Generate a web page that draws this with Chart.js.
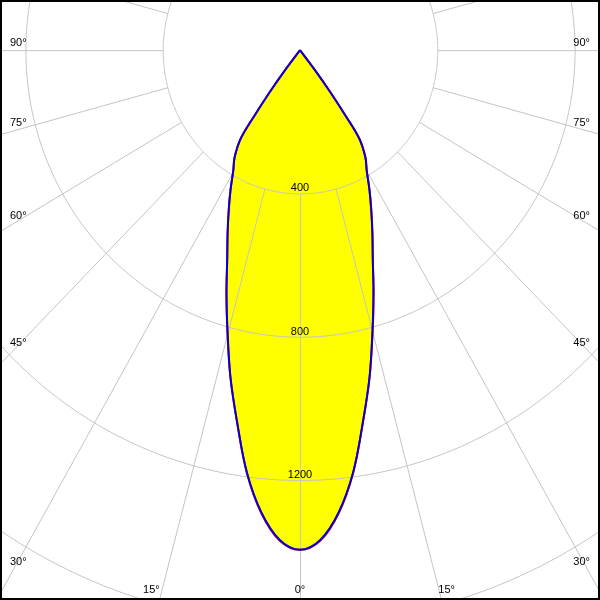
<!DOCTYPE html>
<html><head><meta charset="utf-8">
<script src="https://cdn.jsdelivr.net/npm/chart.js@4.4.1/dist/chart.umd.min.js"></script>
<style>html,body{margin:0;padding:0;background:#fff}#wrap{width:600px;height:600px;position:relative}</style>
</head><body><div id="wrap"><canvas id="c" width="600" height="600"></canvas></div>
<script>
// Photometric data (half profile, symmetric about nadir), angle in degrees from nadir
const angles = [0, 2.5, 5, 7.5, 10, 12.5, 15, 17.5, 20, 22.5, 25, 27.5, 30, 32.5, 35, 36, 37, 38, 39];
const intensityBlue = [1395, 1368, 1295, 1188, 1055, 936, 815, 712, 620, 551, 491, 438, 389, 354, 300, 222, 147, 75, 0];
const intensityRed  = [1395, 1370, 1297, 1189, 1055, 936, 817, 713, 620, 551, 491, 438, 389, 355, 301, 222, 147, 75, 0];
const ringValues = [400, 800, 1200, 1600, 2000];
const ringLabels = ['400', '800', '1200'];
const spokeAngles = [-165, -150, -135, -120, -105, -90, -75, -60, -45, -30, -15, 0, 15, 30, 45, 60, 75, 90, 105, 120, 135, 150, 165, 180];
const angleLabelAngles = [-90, -75, -60, -45, -30, -15, 0, 15, 30, 45, 60, 75, 90];
const angleLabels = ['90°', '75°', '60°', '45°', '30°', '15°', '0°', '15°', '30°', '45°', '60°', '75°', '90°'];

function profile(vals) {
  const pts = [];
  for (let i = angles.length - 1; i >= 1; i--) {
    const t = -angles[i] * Math.PI / 180;
    pts.push({x: vals[i] * Math.sin(t), y: vals[i] * Math.cos(t)});
  }
  for (let i = 0; i < angles.length; i++) {
    const t = angles[i] * Math.PI / 180;
    pts.push({x: vals[i] * Math.sin(t), y: vals[i] * Math.cos(t)});
  }
  return pts;
}

const FONT = '11px "Liberation Sans", Arial, sans-serif';

const polarGrid = {
  id: 'polarGrid',
  afterDatasetDraw(chart, args) {
    if (args.index !== 0) return;
    const ctx = chart.ctx, xs = chart.scales.x, ys = chart.scales.y;
    const W = chart.width, H = chart.height;
    const P = (I, deg) => {
      const t = deg * Math.PI / 180;
      return [xs.getPixelForValue(I * Math.sin(t)), ys.getPixelForValue(I * Math.cos(t))];
    };
    ctx.save();
    ctx.translate(0.5, 0.5);
    ctx.strokeStyle = '#c4c4c4';
    ctx.lineWidth = 1;
    ringValues.forEach(r => {
      ctx.beginPath();
      for (let d = 0; d <= 360; d += 0.5) {
        const [px, py] = P(r, d);
        if (d === 0) ctx.moveTo(px, py); else ctx.lineTo(px, py);
      }
      ctx.closePath();
      ctx.stroke();
    });
    spokeAngles.forEach(a => {
      const [x0, y0] = P(ringValues[0], a);
      const [x1, y1] = P(6000, a);
      ctx.beginPath(); ctx.moveTo(x0, y0); ctx.lineTo(x1, y1); ctx.stroke();
    });
    ctx.restore();

    ctx.save();
    ctx.fillStyle = '#000';
    ctx.font = FONT;
    ctx.textBaseline = 'alphabetic';
    ctx.textAlign = 'center';
    ringLabels.forEach((t, i) => {
      const [px, py] = P(ringValues[i], 0);
      ctx.fillText(t, px, py - 2);
    });
    angleLabelAngles.forEach((a, i) => {
      const t = a * Math.PI / 180;
      const s = Math.sin(t), c = Math.cos(t);
      const bottomV = ys.getValueForPixel(H - 2);
      const Ib = c > 1e-6 ? bottomV / c : Infinity;
      const edgeX = s < 0 ? xs.getValueForPixel(2) : xs.getValueForPixel(W - 2);
      const Is = Math.abs(s) > 1e-6 ? edgeX / s : Infinity;
      const label = angleLabels[i];
      if (Is < Ib) {
        const ax = s < 0 ? 13 : W - 13;
        const I = xs.getValueForPixel(ax) / s;
        const py = P(I, a)[1];
        ctx.textAlign = s < 0 ? 'left' : 'right';
        ctx.fillText(label, s < 0 ? 10 : W - 10, py - 4);
      } else {
        const I = ys.getValueForPixel(H - 11) / c;
        const px = P(I, a)[0];
        ctx.textAlign = a < 0 ? 'right' : (a > 0 ? 'left' : 'center');
        ctx.fillText(label, a < 0 ? px - 2 : px, H - 7);
      }
    });
    ctx.restore();
  }
};

const frame = {
  id: 'frame',
  afterDraw(chart) {
    const ctx = chart.ctx;
    ctx.save();
    ctx.strokeStyle = '#000';
    ctx.lineWidth = 2;
    ctx.strokeRect(1, 1, chart.width - 2, chart.height - 2);
    ctx.restore();
  }
};

new Chart(document.getElementById('c'), {
  type: 'scatter',
  data: {
    datasets: [
      {data: profile(intensityBlue), showLine: true, fill: 'shape', backgroundColor: '#ffff00',
       borderColor: 'rgba(0,0,0,0)', borderWidth: 0, pointRadius: 0, tension: 0.35, order: 3},
      {data: profile(intensityRed), showLine: true, fill: false, borderColor: '#ff0000',
       borderWidth: 2, pointRadius: 0, tension: 0.35, order: 2},
      {data: profile(intensityBlue), showLine: true, fill: false, borderColor: '#0000dd',
       borderWidth: 2, pointRadius: 0, tension: 0.35, order: 1}
    ]
  },
  options: {
    responsive: false,
    animation: false,
    layout: {padding: 0},
    events: [],
    scales: {
      x: {type: 'linear', display: false, min: -874, max: 874},
      y: {type: 'linear', display: false, reverse: true, min: -140, max: 1535}
    },
    plugins: {legend: {display: false}, tooltip: {enabled: false}},
    elements: {line: {borderJoinStyle: 'round', capBezierPoints: true}}
  },
  plugins: [polarGrid, frame]
});
</script>
</body></html>
